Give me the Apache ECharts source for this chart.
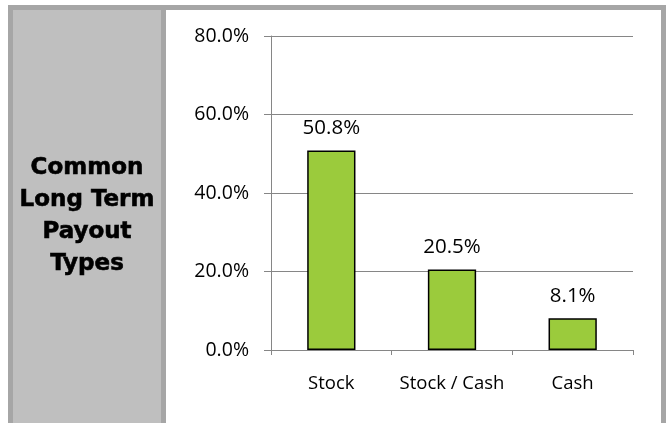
<!DOCTYPE html>
<html>
<head>
<meta charset="utf-8">
<script src="https://cdn.jsdelivr.net/npm/echarts@6/dist/echarts.min.js"></script>
<style>
  html, body { margin: 0; padding: 0; background: #ffffff; }
  #chart { width: 666px; height: 423px; }
</style>
</head>
<body>
<div id="chart"></div>
<script>
// Payout types and the share of plans using each
const categories = ['Stock', 'Stock / Cash', 'Cash'];
const shares = [50.8, 20.5, 8.1];
const yTicks = { min: 0, max: 80, interval: 20 };
const sideTitle = ['Common', 'Long Term', 'Payout', 'Types'];

const chart = echarts.init(document.getElementById('chart'), null, { renderer: 'canvas' });

const axisGray = '#868686';
const bodyFont = '"Open Sans", "Noto Sans", sans-serif';

chart.setOption({
  backgroundColor: '#ffffff',
  animation: false,
  graphic: [
    // outer frame
    { type: 'rect', z: -10, silent: true, shape: { x: 8, y: 5, width: 658, height: 418 }, style: { fill: '#a6a6a6' } },
    // side panel
    { type: 'rect', z: -9, silent: true, shape: { x: 13, y: 10, width: 148, height: 413 }, style: { fill: '#bfbfbf' } },
    // chart panel
    { type: 'rect', z: -9, silent: true, shape: { x: 166, y: 10, width: 495, height: 413 }, style: { fill: '#ffffff' } },
    {
      type: 'text', z: 10, silent: true, x: 87, y: 216,
      style: {
        text: sideTitle.join('\n'),
        fill: '#000000',
        font: 'bold 23px "DejaVu Sans", sans-serif',
        lineHeight: 32,
        align: 'center',
        verticalAlign: 'middle',
        stroke: '#000000',
        lineWidth: 0.6
      }
    }
  ],
  grid: { left: 271, right: 33, top: 36, bottom: 73, containLabel: false },
  xAxis: {
    type: 'category',
    data: categories,
    axisLine: { show: true, lineStyle: { color: axisGray, width: 1 } },
    axisTick: { show: true, length: 5, lineStyle: { color: axisGray } },
    axisLabel: { interval: 0, color: '#000000', fontFamily: bodyFont, fontSize: 18.5, margin: 24 },
    splitLine: { show: false }
  },
  yAxis: {
    type: 'value',
    min: yTicks.min,
    max: yTicks.max,
    interval: yTicks.interval,
    axisLine: { show: true, lineStyle: { color: axisGray, width: 1 } },
    axisTick: { show: true, inside: false, length: 7, lineStyle: { color: axisGray } },
    axisLabel: {
      color: '#000000', fontFamily: bodyFont, fontSize: 19.5, margin: 22,
      formatter: v => v.toFixed(1) + '%'
    },
    splitLine: { show: true, lineStyle: { color: axisGray, width: 1 } }
  },
  series: [{
    type: 'bar',
    data: shares,
    barWidth: '40%',
    itemStyle: { color: '#9bcb3c', borderColor: '#000000', borderWidth: 1.5 },
    label: {
      show: true,
      position: 'top',
      distance: 12,
      color: '#000000',
      fontFamily: bodyFont,
      fontSize: 20.5,
      formatter: p => p.value.toFixed(1) + '%'
    }
  }]
});
</script>
</body>
</html>
